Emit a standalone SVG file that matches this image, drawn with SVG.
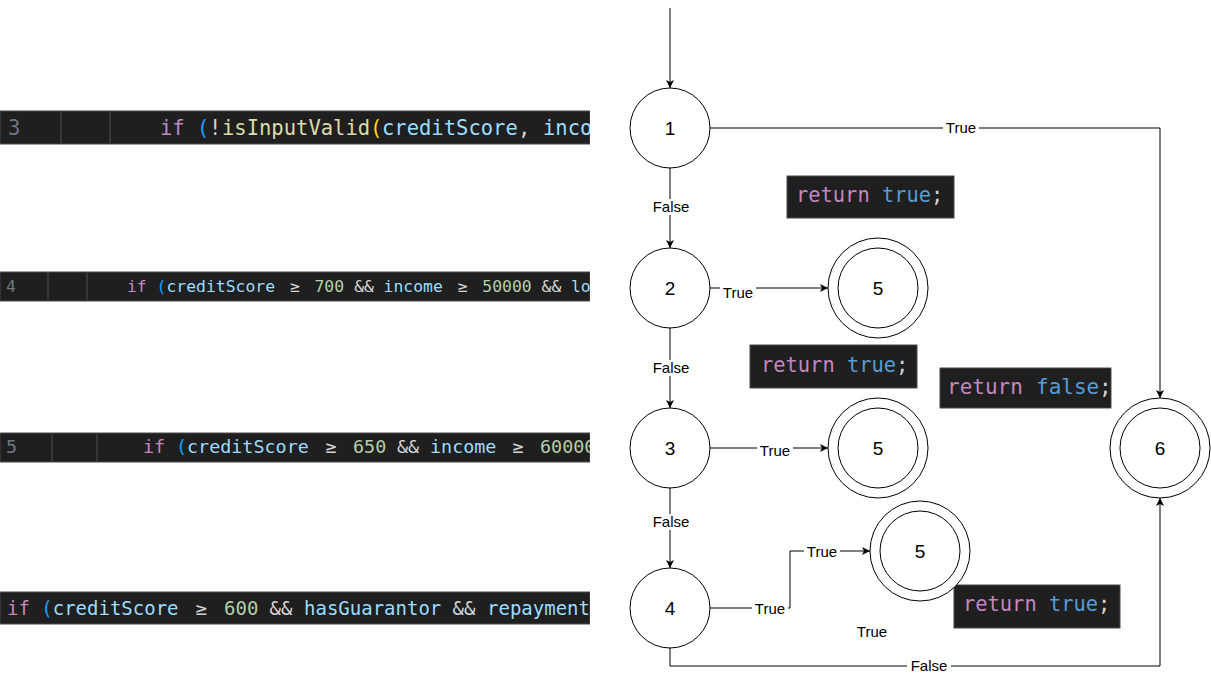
<svg xmlns="http://www.w3.org/2000/svg" width="1211" height="676" viewBox="0 0 1211 676">
<style>
.node{fill:#fff;stroke:#000;stroke-width:1}
.nl{font-family:"Liberation Sans",Arial,sans-serif;font-size:19px;fill:#000;text-anchor:middle}
.edge{fill:none;stroke:#000;stroke-width:1}
.lbl{font-family:"Liberation Sans",Arial,sans-serif;font-size:15px;fill:#000;text-anchor:middle}
.lb{fill:#fff}
.code{fill:#1f1f1f;stroke:#4a4a4a;stroke-width:1}
.mono{font-family:"DejaVu Sans Mono","Liberation Mono",monospace}
.kw{fill:#c586c0}
.br{fill:#179fff}
.br2{fill:#ffd700}
.op{fill:#d4d4d4}
.fn{fill:#dcdcaa}
.var{fill:#9cdcfe}
.num{fill:#b5cea8}
.lit{fill:#569cd6}
.ln{fill:#6e7681}
.guide{stroke:#404040;stroke-width:1.5}
</style>
<defs>
<marker id="arr" viewBox="0 0 10 10" refX="10" refY="5" markerWidth="8" markerHeight="8" markerUnits="userSpaceOnUse" orient="auto">
<path d="M0,0 L10,5 L0,10 L2.5,5 z" fill="#000"/>
</marker>
<clipPath id="clip"><rect x="0" y="0" width="590" height="676"/></clipPath>
</defs>

<g id="code-strips" clip-path="url(#clip)">
<g id="code-line-3">
<rect class="code" x="0" y="111" width="590" height="33"/>
<line class="guide" x1="61" y1="112" x2="61" y2="143"/>
<line class="guide" x1="110" y1="112" x2="110" y2="143"/>
<text class="mono ln" x="8" y="135" font-size="20.5">3</text>
<text class="mono" y="135" font-size="20.5"><tspan class="kw" x="160">if</tspan><tspan class="br" x="197">(</tspan><tspan class="op" x="209">!</tspan><tspan class="fn" x="222">isInputValid</tspan><tspan class="br2" x="370">(</tspan><tspan class="var" x="382">creditScore</tspan><tspan class="op" x="518">,</tspan><tspan class="var" x="543">inco</tspan></text>
</g>
<g id="code-line-4">
<rect class="code" x="0" y="272" width="590" height="29"/>
<line class="guide" x1="48" y1="273" x2="48" y2="300"/>
<line class="guide" x1="87" y1="273" x2="87" y2="300"/>
<text class="mono ln" x="6" y="292" font-size="16.4">4</text>
<text class="mono" y="292" font-size="16.4"><tspan class="kw" x="127">if</tspan><tspan class="br" x="156.6">(</tspan><tspan class="var" x="166.5">creditScore</tspan><tspan class="op" x="295" text-anchor="middle">≥</tspan><tspan class="num" x="314.5">700</tspan><tspan class="op" x="364" text-anchor="middle">&amp;&amp;</tspan><tspan class="var" x="383.6">income</tspan><tspan class="op" x="462.6" text-anchor="middle">≥</tspan><tspan class="num" x="482.3">50000</tspan><tspan class="op" x="551.4" text-anchor="middle">&amp;&amp;</tspan><tspan class="var" x="571">lo</tspan></text>
</g>
<g id="code-line-5">
<rect class="code" x="0" y="433" width="590" height="29"/>
<line class="guide" x1="52" y1="434" x2="52" y2="461"/>
<line class="guide" x1="97" y1="434" x2="97" y2="461"/>
<text class="mono ln" x="6" y="453" font-size="18.4">5</text>
<text class="mono" y="453" font-size="18.4"><tspan class="kw" x="143">if</tspan><tspan class="br" x="176">(</tspan><tspan class="var" x="187">creditScore</tspan><tspan class="op" x="331" text-anchor="middle">≥</tspan><tspan class="num" x="353">650</tspan><tspan class="op" x="408" text-anchor="middle">&amp;&amp;</tspan><tspan class="var" x="430">income</tspan><tspan class="op" x="518" text-anchor="middle">≥</tspan><tspan class="num" x="540">60000</tspan></text>
</g>
<g id="code-line-6">
<rect class="code" x="0" y="592" width="590" height="32"/>
<text class="mono" y="615" font-size="19"><tspan class="kw" x="7">if</tspan><tspan class="br" x="41.3">(</tspan><tspan class="var" x="52.7">creditScore</tspan><tspan class="op" x="201.3" text-anchor="middle">≥</tspan><tspan class="num" x="224">600</tspan><tspan class="op" x="281" text-anchor="middle">&amp;&amp;</tspan><tspan class="var" x="304">hasGuarantor</tspan><tspan class="op" x="464" text-anchor="middle">&amp;&amp;</tspan><tspan class="var" x="487">repaymentH</tspan></text>
</g>
</g>

<g id="return-boxes">
<g id="ret-1">
<rect class="code" x="787" y="176" width="167" height="42"/>
<text class="mono" y="202" font-size="20.4"><tspan class="kw" x="796">return</tspan><tspan class="lit" x="882">true</tspan><tspan class="op" x="931">;</tspan></text>
</g>
<g id="ret-2">
<rect class="code" x="750" y="345" width="167" height="43"/>
<text class="mono" y="372" font-size="20.4"><tspan class="kw" x="761">return</tspan><tspan class="lit" x="847">true</tspan><tspan class="op" x="896">;</tspan></text>
</g>
<g id="ret-3">
<rect class="code" x="940" y="368" width="171" height="40"/>
<text class="mono" y="394" font-size="21"><tspan class="kw" x="947">return</tspan><tspan class="lit" x="1036">false</tspan><tspan class="op" x="1099">;</tspan></text>
</g>
<g id="ret-4">
<rect class="code" x="954" y="585" width="166" height="43"/>
<text class="mono" y="611" font-size="20.4"><tspan class="kw" x="963">return</tspan><tspan class="lit" x="1049">true</tspan><tspan class="op" x="1098">;</tspan></text>
</g>
</g>

<g id="connectors">
<path class="edge" d="M670,8 L670,88" marker-end="url(#arr)"/>
<path class="edge" d="M710,128 L1160,128 L1160,398" marker-end="url(#arr)"/>
<path class="edge" d="M670,168 L670,248" marker-end="url(#arr)"/>
<path class="edge" d="M710,288 L828,288" marker-end="url(#arr)"/>
<path class="edge" d="M670,328 L670,408" marker-end="url(#arr)"/>
<path class="edge" d="M710,448 L828,448" marker-end="url(#arr)"/>
<path class="edge" d="M670,488 L670,568" marker-end="url(#arr)"/>
<path class="edge" d="M710,608 L790,608 L790,551 L870,551" marker-end="url(#arr)"/>
<path class="edge" d="M670,648 L670,666 L1160,666 L1160,498" marker-end="url(#arr)"/>
<g id="edge-labels">
<rect class="lb" x="943" y="120" width="36" height="16"/><text class="lbl" x="961" y="133">True</text>
<rect class="lb" x="649" y="199" width="44" height="16"/><text class="lbl" x="671" y="212">False</text>
<rect class="lb" x="720" y="285" width="36" height="16"/><text class="lbl" x="738" y="298">True</text>
<rect class="lb" x="649" y="360" width="44" height="16"/><text class="lbl" x="671" y="373">False</text>
<rect class="lb" x="757" y="443" width="36" height="16"/><text class="lbl" x="775" y="456">True</text>
<rect class="lb" x="649" y="514" width="44" height="16"/><text class="lbl" x="671" y="527">False</text>
<rect class="lb" x="752" y="601" width="36" height="16"/><text class="lbl" x="770" y="614">True</text>
<rect class="lb" x="804" y="544" width="36" height="16"/><text class="lbl" x="822" y="557">True</text>
<rect class="lb" x="907" y="658" width="44" height="16"/><text class="lbl" x="929" y="671">False</text>
</g>
</g>

<text class="lbl" x="872" y="637">True</text>

<g id="node-1"><circle class="node" cx="670" cy="128" r="40"/><text class="nl" x="670" y="135">1</text></g>
<g id="node-2"><circle class="node" cx="670" cy="288" r="40"/><text class="nl" x="670" y="295">2</text></g>
<g id="node-3"><circle class="node" cx="670" cy="448" r="40"/><text class="nl" x="670" y="455">3</text></g>
<g id="node-4"><circle class="node" cx="670" cy="608" r="40"/><text class="nl" x="670" y="615">4</text></g>
<g id="node-5a"><circle class="node" cx="878" cy="288" r="50"/><circle class="node" cx="878" cy="288" r="40"/><text class="nl" x="878" y="295">5</text></g>
<g id="node-5b"><circle class="node" cx="878" cy="448" r="50"/><circle class="node" cx="878" cy="448" r="40"/><text class="nl" x="878" y="455">5</text></g>
<g id="node-5c"><circle class="node" cx="920" cy="551" r="50"/><circle class="node" cx="920" cy="551" r="40"/><text class="nl" x="920" y="558">5</text></g>
<g id="node-6"><circle class="node" cx="1160" cy="448" r="50"/><circle class="node" cx="1160" cy="448" r="40"/><text class="nl" x="1160" y="455">6</text></g>
</svg>
